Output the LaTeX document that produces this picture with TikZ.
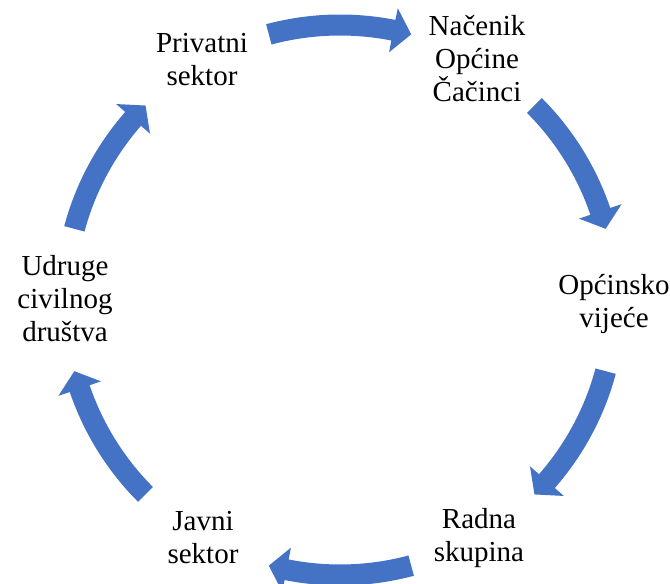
\documentclass[tikz,border=0pt]{standalone}
\usepackage{fontspec}
\setmainfont{Liberation Serif}
\usepackage{xcolor}
\usepackage{tikz}

\definecolor{cycleblue}{HTML}{4472C4}

% block arc arrow round the centre c, #1 = middle angle, runs clockwise
\newcommand{\cyclearrow}[1]{%
    \fill[arrowfill, shift={(c)}] (#1+15:285.5) arc[start angle=#1+15, end angle=#1-11.2, radius=285.5]
        -- (#1-11.2:297.5) -- (#1-15:275) -- (#1-11.2:252.5) -- (#1-11.2:264.5)
        arc[start angle=#1-11.2, end angle=#1+15, radius=264.5] -- cycle;}

\begin{document}
\begin{tikzpicture}[x=1pt, y=1pt,
        actor/.style={align=center, inner sep=0pt, font=\fontsize{29}{33}\selectfont},
        arrowfill/.style={fill=cycleblue}]

        \useasboundingbox (0,0) rectangle (670,584);
        \coordinate (c) at (340, 284);

        \node[actor] (priv) at (202, 524) {Privatni\\sektor};
        \node[actor] (nac) at (477, 525) {Načenik\\Općine\\Čačinci};
        \node[actor] (vij) at (614, 280) {Općinsko\\vijeće};
        \node[actor] (rad) at (479, 46) {Radna\\skupina};
        \node[actor] (javni) at (203, 46) {Javni\\sektor};
        \node[actor] (udr) at (65, 285) {Udruge\\civilnog\\društva};

        \cyclearrow{90}   % priv -> nac
        \cyclearrow{30}   % nac -> vij
        \cyclearrow{-30}  % vij -> rad
        \cyclearrow{-90}  % rad -> javni
        \cyclearrow{-150} % javni -> udr
        \cyclearrow{150}  % udr -> priv
    \end{tikzpicture}
\end{document}
